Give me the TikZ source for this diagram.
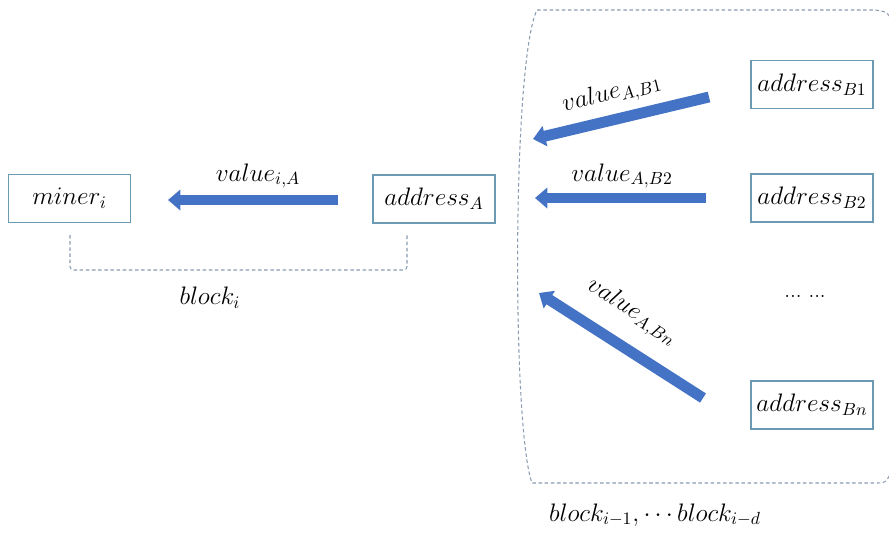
\documentclass[tikz,border=0pt]{standalone}
\usepackage{amssymb, amsmath}
\usepackage{tikz}
\usetikzlibrary{arrows.meta}

\definecolor{boxline}{HTML}{6A9BB3}
\definecolor{flow}{HTML}{4472C4}
\definecolor{dashline}{HTML}{8A9BB0}

\tikzset{
  account/.style={draw=boxline, line width=0.6pt, minimum width=2.44cm, minimum height=0.96cm, inner sep=0pt},
  transfer/.style={draw=flow, line width=6.2pt, -{Triangle[length=7pt,width=11.5pt]}},
  blockline/.style={draw=dashline, line width=0.6pt, dash pattern=on 2pt off 1.5pt}
}

\begin{document}
\begin{tikzpicture}[x=0.02cm, y=-0.02cm, font=\fontsize{14}{17}\selectfont]
\clip (0,0) rectangle (889,532);

\node[account] (miner) at (69.5,198.5) {$miner_i$};
\node[account] (addrA) at (434,199) {$address_A$};
\node[account] (addrB1) at (812,84.5) {$address_{B1}$};
\node[account] (addrB2) at (812,198) {$address_{B2}$};
\node[account] (addrBn) at (812,405) {$address_{Bn}$};
\node[font=\fontsize{12}{14}\selectfont] (dots) at (805,296) {...\,\,...};

\coordinate (A0) at (338,200);
\coordinate (A1) at (168,200);
\coordinate (B1s) at (709,97);
\coordinate (B1t) at (533,139);
\coordinate (B2s) at (706,198);
\coordinate (B2t) at (535,198);
\coordinate (Bns) at (703,398);
\coordinate (Bnt) at (539,293);

\draw[transfer] (A0) -- (A1);
\draw[transfer] (B1s) -- (B1t);
\draw[transfer] (B2s) -- (B2t);
\draw[transfer] (Bns) -- (Bnt);

\node (vA) at (258,176) {$value_{i,A}$};
\node[rotate=14] (vB1) at (612,94) {$value_{A,B1}$};
\node (vB2) at (622,176) {$value_{A,B2}$};
\node[rotate=-33] (vBn) at (632,312) {$value_{A,Bn}$};

% current block
\draw[blockline, rounded corners=2pt] (70,235) -- (70,270) -- (407,270) -- (407,235);
\node (blk) at (210,298) {$block_i$};

% earlier blocks
\draw[blockline] (895,40) .. controls (890,12) .. (875,10) -- (537,10)
  .. controls (512,60) and (512,430) .. (532,483) -- (875,483)
  .. controls (888,483) .. (895,455);
\node (blks) at (655,515) {$block_{i-1},\cdots block_{i-d}$};

\end{tikzpicture}
\end{document}
